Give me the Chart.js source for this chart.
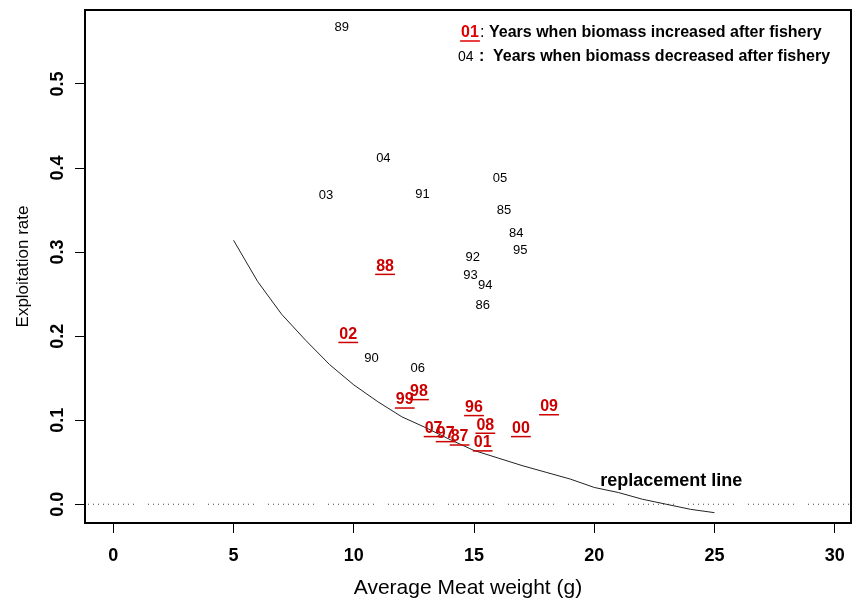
<!DOCTYPE html>
<html>
<head>
<meta charset="utf-8">
<script src="https://cdn.jsdelivr.net/npm/chart.js@4"></script>
<style>
    body { margin: 0; background: #fff; }
</style>
</head>
<body>
<canvas id="biomassChart" width="852" height="601"></canvas>
<script>
// years when biomass went up after the fishery (red, underlined)
const incYears = ["88", "02", "98", "99", "96", "09", "08", "00", "07", "97", "87", "01"];
const incWeight = [11.30, 9.77, 12.71, 12.12, 15.00, 18.12, 15.47, 16.95, 13.32, 13.82, 14.40, 15.36];
const incRate = [0.283, 0.202, 0.134, 0.124, 0.115, 0.116, 0.094, 0.090, 0.090, 0.084, 0.080, 0.073];

// years when biomass went down after the fishery (black)
const decYears = ["89", "04", "03", "91", "05", "85", "84", "95", "92", "93", "94", "86", "90", "06"];
const decWeight = [9.50, 11.23, 8.84, 12.86, 16.08, 16.25, 16.76, 16.92, 14.95, 14.85, 15.47, 15.36, 10.74, 12.66];
const decRate = [0.567, 0.411, 0.368, 0.369, 0.388, 0.350, 0.322, 0.302, 0.294, 0.272, 0.260, 0.237, 0.173, 0.162];

// replacement line
const lineWeight = [5, 6, 7, 8, 9, 10, 11, 12, 13, 14, 15, 16, 17, 18, 19, 20, 21, 22, 23, 24, 25];
const lineRate = [0.314, 0.265, 0.226, 0.195, 0.166, 0.142, 0.122, 0.104, 0.091, 0.077, 0.064, 0.055, 0.046, 0.038, 0.030, 0.020, 0.014, 0.006, 0.000, -0.006, -0.010];

const xTicks = [0, 5, 10, 15, 20, 25, 30];
const xTickLabels = ["0", "5", "10", "15", "20", "25", "30"];
const yTicks = [0, 0.1, 0.2, 0.3, 0.4, 0.5];
const yTickLabels = ["0.0", "0.1", "0.2", "0.3", "0.4", "0.5"];

const xMin = -1.18, xMax = 30.68;
const yMin = -0.0223, yMax = 0.588;

const fontFamily = "'Liberation Sans', Arial, sans-serif";
const red = "#cc0000";

const toPoints = (xs, ys) => xs.map((x, i) => ({ x: x, y: ys[i] }));

// dotted groups along y = 0: ten dots, then a gap
const dotGroup = [];
for (let i = 0; i < 9; i++) dotGroup.push(1, 4);
dotGroup.push(1, 14);

const yearLabels = {
    id: "yearLabels",
    afterDatasetsDraw(chart) {
        const ctx = chart.ctx;
        const area = chart.chartArea;
        const xs = chart.scales.x;
        const ys = chart.scales.y;
        ctx.save();

        ctx.strokeStyle = "#000";
        ctx.lineWidth = 2;
        ctx.strokeRect(area.left, area.top, area.right - area.left, area.bottom - area.top);

        ctx.textAlign = "center";
        ctx.textBaseline = "middle";

        ctx.font = "13px " + fontFamily;
        ctx.fillStyle = "#000";
        chart.getDatasetMeta(1).data.forEach((pt, i) => {
            ctx.fillText(decYears[i], pt.x, pt.y);
        });

        ctx.font = "bold 16px " + fontFamily;
        ctx.fillStyle = red;
        ctx.strokeStyle = red;
        ctx.lineWidth = 1.5;
        chart.getDatasetMeta(0).data.forEach((pt, i) => {
            ctx.fillText(incYears[i], pt.x, pt.y);
            const w = ctx.measureText(incYears[i]).width;
            ctx.beginPath();
            ctx.moveTo(pt.x - w / 2 - 1, pt.y + 8);
            ctx.lineTo(pt.x + w / 2 + 1, pt.y + 8);
            ctx.stroke();
        });

        // label for the replacement line
        ctx.font = "bold 18px " + fontFamily;
        ctx.fillStyle = "#000";
        ctx.fillText("replacement line", xs.getPixelForValue(23.2), ys.getPixelForValue(0.028));

        // legend in the top right corner
        const lx = area.right - 391;
        const row1 = area.top + 23;
        const row2 = area.top + 47;

        ctx.font = "bold 16px " + fontFamily;
        ctx.fillStyle = "#e00000";
        ctx.strokeStyle = "#e00000";
        ctx.fillText("01", lx + 10, row1);
        const w01 = ctx.measureText("01").width;
        ctx.beginPath();
        ctx.moveTo(lx + 10 - w01 / 2 - 1, row1 + 8);
        ctx.lineTo(lx + 10 + w01 / 2 + 1, row1 + 8);
        ctx.stroke();

        ctx.fillStyle = "#000";
        ctx.textAlign = "left";
        ctx.font = "16px " + fontFamily;
        ctx.fillText(":", lx + 20, row1);
        ctx.font = "bold 16px " + fontFamily;
        ctx.fillText("Years when biomass increased after fishery", lx + 29, row1);

        ctx.font = "14px " + fontFamily;
        ctx.fillText("04", lx - 2, row2);
        ctx.font = "bold 16px " + fontFamily;
        ctx.fillText(":", lx + 19, row2);
        ctx.fillText("Years when biomass decreased after fishery", lx + 33, row2);

        ctx.restore();
    }
};

new Chart(document.getElementById("biomassChart"), {
    type: "scatter",
    data: {
        datasets: [
            {
                label: "increased",
                data: toPoints(incWeight, incRate),
                pointRadius: 0,
                showLine: false
            },
            {
                label: "decreased",
                data: toPoints(decWeight, decRate),
                pointRadius: 0,
                showLine: false
            },
            {
                label: "replacement line",
                data: toPoints(lineWeight, lineRate),
                showLine: true,
                borderColor: "#222",
                borderWidth: 1,
                pointRadius: 0,
                tension: 0
            },
            {
                label: "zero",
                data: [{ x: xMin, y: 0 }, { x: xMax, y: 0 }],
                showLine: true,
                borderColor: "#444",
                borderWidth: 1,
                borderDash: dotGroup,
                borderDashOffset: -3,
                pointRadius: 0
            }
        ]
    },
    options: {
        responsive: false,
        animation: false,
        events: [],
        layout: { padding: { top: 10, right: 1, left: 0, bottom: 0 } },
        plugins: {
            legend: { display: false },
            tooltip: { enabled: false }
        },
        scales: {
            x: {
                type: "linear",
                min: xMin,
                max: xMax,
                afterBuildTicks: (s) => { s.ticks = xTicks.map(v => ({ value: v })); },
                afterFit: (s) => { s.height = 78; s.paddingLeft = 0; s.paddingRight = 0; },
                grid: { drawOnChartArea: false, drawTicks: true, tickLength: 10, color: "#000", lineWidth: 1 },
                border: { display: false },
                ticks: {
                    autoSkip: false,
                    maxRotation: 0,
                    padding: 12,
                    color: "#000",
                    font: { family: fontFamily, size: 18, weight: "bold" },
                    callback: (v, i) => xTickLabels[i]
                },
                title: {
                    display: true,
                    text: "Average Meat weight (g)",
                    color: "#000",
                    font: { family: fontFamily, size: 21 },
                    padding: { top: 0, bottom: 0 }
                }
            },
            y: {
                type: "linear",
                min: yMin,
                max: yMax,
                afterBuildTicks: (s) => { s.ticks = yTicks.map(v => ({ value: v })); },
                afterFit: (s) => { s.width = 85; s.paddingTop = 0; s.paddingBottom = 0; },
                grid: { drawOnChartArea: false, drawTicks: true, tickLength: 10, color: "#000", lineWidth: 1 },
                border: { display: false },
                ticks: {
                    minRotation: 90,
                    maxRotation: 90,
                    crossAlign: "center",
                    padding: 4,
                    color: "#000",
                    font: { family: fontFamily, size: 18, weight: "bold" },
                    callback: (v, i) => yTickLabels[i]
                },
                title: {
                    display: true,
                    text: "Exploitation rate",
                    color: "#000",
                    font: { family: fontFamily, size: 17 },
                    padding: { top: 13, bottom: 0 }
                }
            }
        }
    },
    plugins: [yearLabels]
});
</script>
</body>
</html>
